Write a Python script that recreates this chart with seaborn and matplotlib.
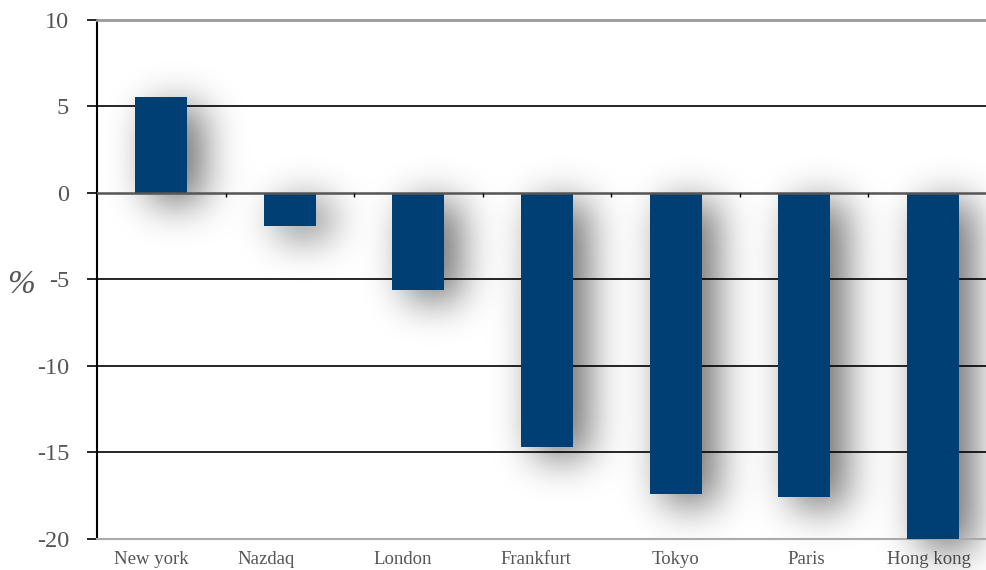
import numpy as np
import matplotlib
matplotlib.use("Agg")
import matplotlib.pyplot as plt
import matplotlib.transforms as mtransforms
import seaborn as sns

# Market index changes, in percent
markets = ["New york", "Nazdaq", "London", "Frankfurt", "Tokyo", "Paris", "Hong kong"]
changes = [5.5, -1.9, -5.6, -14.7, -17.4, -17.6, -20.0]
y_ticks = [-20, -15, -10, -5, 0, 5, 10]

BAR_COLOR = "#003F73"
TEXT_COLOR = "#555555"
BAR_WIDTH = 0.405
# horizontal nudges (points) of the category labels
LABEL_SHIFT = [-7, -17, -11, -8, 0, 1.5, -3]

sns.set_style("white")
plt.rcParams["font.family"] = ["Liberation Serif", "DejaVu Serif"]

fig = plt.figure(figsize=(9.86, 5.70), dpi=100)
ax = fig.add_axes([97 / 986, 31 / 570, 900 / 986, 519.5 / 570])

sns.barplot(x=markets, y=changes, color=BAR_COLOR, saturation=1,
            width=BAR_WIDTH, ax=ax)
for p in ax.patches:
    p.set_zorder(3)
    p.set_edgecolor("none")

ax.set_xlim(-0.5, len(markets) - 0.5)
ax.set_ylim(-20, 10)

# soft drop shadow behind the bars, blurred in screen pixels
t0 = ax.transData.transform((0, 0))
t1 = ax.transData.transform((1, 1))
ppx = t1[0] - t0[0]
ppy = t1[1] - t0[1]
x_lo, x_hi = -0.9, len(markets) - 0.1
y_lo, y_hi = -27.0, 14.0
W = int((x_hi - x_lo) * ppx)
H = int((y_hi - y_lo) * ppy)
gx = np.linspace(x_lo, x_hi, W)
gy = np.linspace(y_lo, y_hi, H)
dx = 14 / ppx
dy = 10 / ppy
mask = np.zeros((H, W))
for i, v in enumerate(changes):
    lo, hi = min(0, v), max(0, v)
    xin = (gx >= i - BAR_WIDTH / 2 + dx) & (gx <= i + BAR_WIDTH / 2 + dx)
    yin = (gy >= lo - dy) & (gy <= hi - dy)
    mask[np.ix_(yin, xin)] = 1.0
sigma = 20.0
k = np.arange(-int(3 * sigma), int(3 * sigma) + 1)
kern = np.exp(-0.5 * (k / sigma) ** 2)
kern /= kern.sum()
blur = np.apply_along_axis(lambda r: np.convolve(r, kern, mode="same"), 1, mask)
blur = np.apply_along_axis(lambda c: np.convolve(c, kern, mode="same"), 0, blur)
rgba = np.zeros((H, W, 4))
rgba[..., 3] = np.clip(blur, 0, 1) * 0.6
ax.imshow(rgba, extent=(x_lo, x_hi, y_lo, y_hi), origin="lower",
          aspect="auto", interpolation="bilinear", zorder=1, clip_on=False)
ax.set_xlim(-0.5, len(markets) - 0.5)
ax.set_ylim(-20, 10)

# horizontal rules
for y in [5, -5, -10, -15]:
    ax.axhline(y, color="black", lw=1.2, zorder=2)
ax.axhline(0, color="#555555", lw=1.8, zorder=4)

# small ticks between categories on the zero line
ax.vlines(np.arange(0.5, len(markets) - 0.5), -0.25, 0, color="black",
          lw=1.0, zorder=4)

ax.spines["left"].set_color("black")
ax.spines["left"].set_linewidth(1.5)
ax.spines["top"].set_color("#999999")
ax.spines["top"].set_linewidth(2)
ax.spines["bottom"].set_color("#aaaaaa")
ax.spines["bottom"].set_linewidth(1.5)
ax.spines["right"].set_visible(False)

ax.set_yticks(y_ticks)
ax.set_yticklabels([str(v) for v in y_ticks])
ax.tick_params(axis="y", length=7, width=1.2, color="black", pad=13,
               labelsize=17.5, labelcolor=TEXT_COLOR, left=True, direction="out")
ax.tick_params(axis="x", length=0, pad=9, labelsize=13.5, labelcolor=TEXT_COLOR)
for lab, s in zip(ax.get_xticklabels(), LABEL_SHIFT):
    lab.set_transform(lab.get_transform() +
                      mtransforms.ScaledTranslation(s / 72, 0, fig.dpi_scale_trans))
ax.set_xlabel("")
ax.set_ylabel("")

fig.text(21 / 986, 1 - 285 / 570, "%", fontsize=24, fontstyle="italic",
         color=TEXT_COLOR, ha="center", va="center")

fig.savefig("out.png", dpi=100)
